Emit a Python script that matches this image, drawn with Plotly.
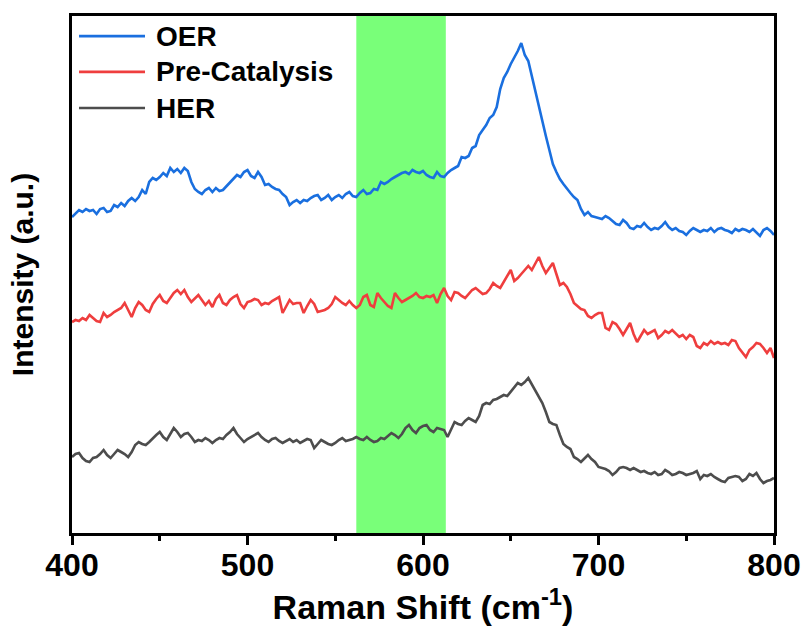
import plotly.graph_objects as go

# Raman shift grid (cm-1), 2 cm-1 steps from 400 to 800
x_start, x_step = 400, 2

oer = [
    317,321,324,322,325,323,324,320,325,326,
    322,323,329,327,331,328,333,336,333,337,
    344,340,352,356,354,357,361,358,366,362,
    365,361,366,363,352,345,342,340,344,346,
    342,346,343,344,348,352,356,359,357,362,
    364,358,356,362,357,349,350,347,345,344,
    340,337,329,332,334,331,334,333,336,338,
    339,334,336,339,334,337,339,336,340,342,
    338,337,341,344,340,341,345,344,352,350,
    352,355,357,359,361,362,360,364,362,361,
    363,359,357,356,362,358,357,361,364,366,
    368,377,376,378,386,388,399,404,409,416,
    419,427,445,456,462,470,476,483,491,479,
    473,458,440,427,412,398,384,370,362,355,
    350,345,341,337,334,325,319,322,318,317,
    316,315,318,316,313,310,309,314,311,306,
    305,308,307,311,307,304,306,305,308,312,
    307,304,306,303,302,299,303,306,304,302,
    304,303,306,302,305,306,304,303,301,305,
    303,305,304,302,305,301,298,304,306,303,
    299,
]

pre_catalysis = [
    212,214,213,216,214,219,216,213,212,221,
    217,219,222,224,226,231,224,217,226,232,
    229,224,222,230,235,239,233,231,236,241,
    244,240,244,237,232,236,239,234,229,233,
    227,235,239,231,229,234,237,239,230,226,
    232,233,235,234,229,231,230,233,235,237,
    221,228,234,230,231,231,221,228,234,230,
    222,223,224,226,230,237,234,231,229,233,
    229,226,229,237,239,229,227,241,236,232,
    228,226,241,236,232,234,236,238,241,237,
    236,238,237,239,231,240,246,238,234,242,
    241,238,236,240,244,246,243,240,241,245,
    251,248,246,252,258,264,253,256,260,264,
    268,264,270,277,268,261,266,271,260,249,
    251,247,240,231,228,225,224,218,216,219,
    221,221,206,204,212,210,205,199,205,211,
    200,192,198,204,200,202,204,196,199,203,
    201,204,200,197,199,195,199,197,188,186,
    191,189,193,190,192,190,191,189,194,193,
    186,182,177,184,187,191,190,186,181,186,
    176,
]

her = [
    77,80,81,76,73,72,76,77,80,84,
    79,76,80,84,82,80,77,82,89,92,
    90,89,92,96,99,102,97,94,100,106,
    102,97,100,101,97,92,94,93,96,94,
    91,94,96,95,99,102,106,100,96,92,
    95,97,99,101,97,94,92,95,96,93,
    91,93,95,92,94,91,93,95,94,86,
    90,94,92,90,89,91,94,96,93,94,
    95,97,95,94,97,94,92,93,96,95,
    98,101,99,96,100,106,109,104,101,106,
    108,109,104,102,106,105,104,97,104,112,
    110,109,113,116,114,112,118,129,131,130,
    134,135,137,139,138,142,147,151,149,152,
    156,150,144,138,131,122,112,110,109,99,
    90,87,85,77,75,72,76,79,75,72,
    67,66,65,63,59,62,66,67,66,64,
    66,64,62,63,61,60,62,59,60,64,
    62,59,60,62,61,59,60,61,63,55,
    59,58,60,57,55,53,52,56,57,58,
    57,53,55,60,58,61,55,51,53,54,
    56,
]

series_names = ["OER", "Pre-Catalysis", "HER"]
series_colors = ["#1a6fdf", "#ef3e3e", "#4d4d4d"]
band_range = [562, 613]
x_ticks = [400, 500, 600, 700, 800]
x_range = [400, 800]
y_range = [1, 518]

FONT = "Liberation Sans, Arial, sans-serif"

fig = go.Figure()
for name, vals, col in zip(series_names, [oer, pre_catalysis, her], series_colors):
    xs = [x_start + x_step * i for i in range(len(vals))]
    fig.add_trace(go.Scatter(x=xs, y=vals, mode="lines", name=name,
                             line=dict(color=col, width=2.6), showlegend=False))

# highlighted band
fig.add_shape(type="rect", xref="x", yref="paper", x0=band_range[0], x1=band_range[1],
              y0=0, y1=1, fillcolor="#79ff79", line=dict(width=0), layer="below")

# manual legend
leg_y = [0.961, 0.892, 0.822]
for name, col, yy in zip(series_names, series_colors, leg_y):
    fig.add_shape(type="line", xref="paper", yref="paper", x0=0.010, x1=0.104,
                  y0=yy, y1=yy, line=dict(color=col, width=2.6))
    fig.add_annotation(xref="paper", yref="paper", x=0.117, y=yy, text=name,
                       showarrow=False, xanchor="left", yanchor="middle",
                       font=dict(family=FONT, size=28, color="black", weight="bold"))

fig.update_layout(
    width=804, height=626,
    margin=dict(l=72, r=30, t=16, b=93),
    paper_bgcolor="white", plot_bgcolor="white",
    font=dict(family=FONT, color="black"),
)
fig.update_xaxes(
    range=x_range, tickvals=x_ticks, ticks="outside", ticklen=9, tickwidth=3,
    tickcolor="black", showline=True, linewidth=3, linecolor="black", mirror=True,
    showgrid=False, zeroline=False, automargin=False, ticklabelstandoff=-7,
    minor=dict(dtick=50, ticks="outside", ticklen=5, tickwidth=3, tickcolor="black"),
    tickfont=dict(family=FONT, size=32, weight="bold"),
    title=dict(text="Raman Shift (cm<sup>-1</sup>)", standoff=6,
               font=dict(family=FONT, size=34, weight="bold")),
)
fig.update_yaxes(
    range=y_range, showticklabels=False, ticks="", showline=True, linewidth=3,
    linecolor="black", mirror=True, showgrid=False, zeroline=False, automargin=False,
    title=dict(text="Intensity (a.u.)", standoff=27,
               font=dict(family=FONT, size=30, weight="bold")),
)

fig.write_html("out.html")
